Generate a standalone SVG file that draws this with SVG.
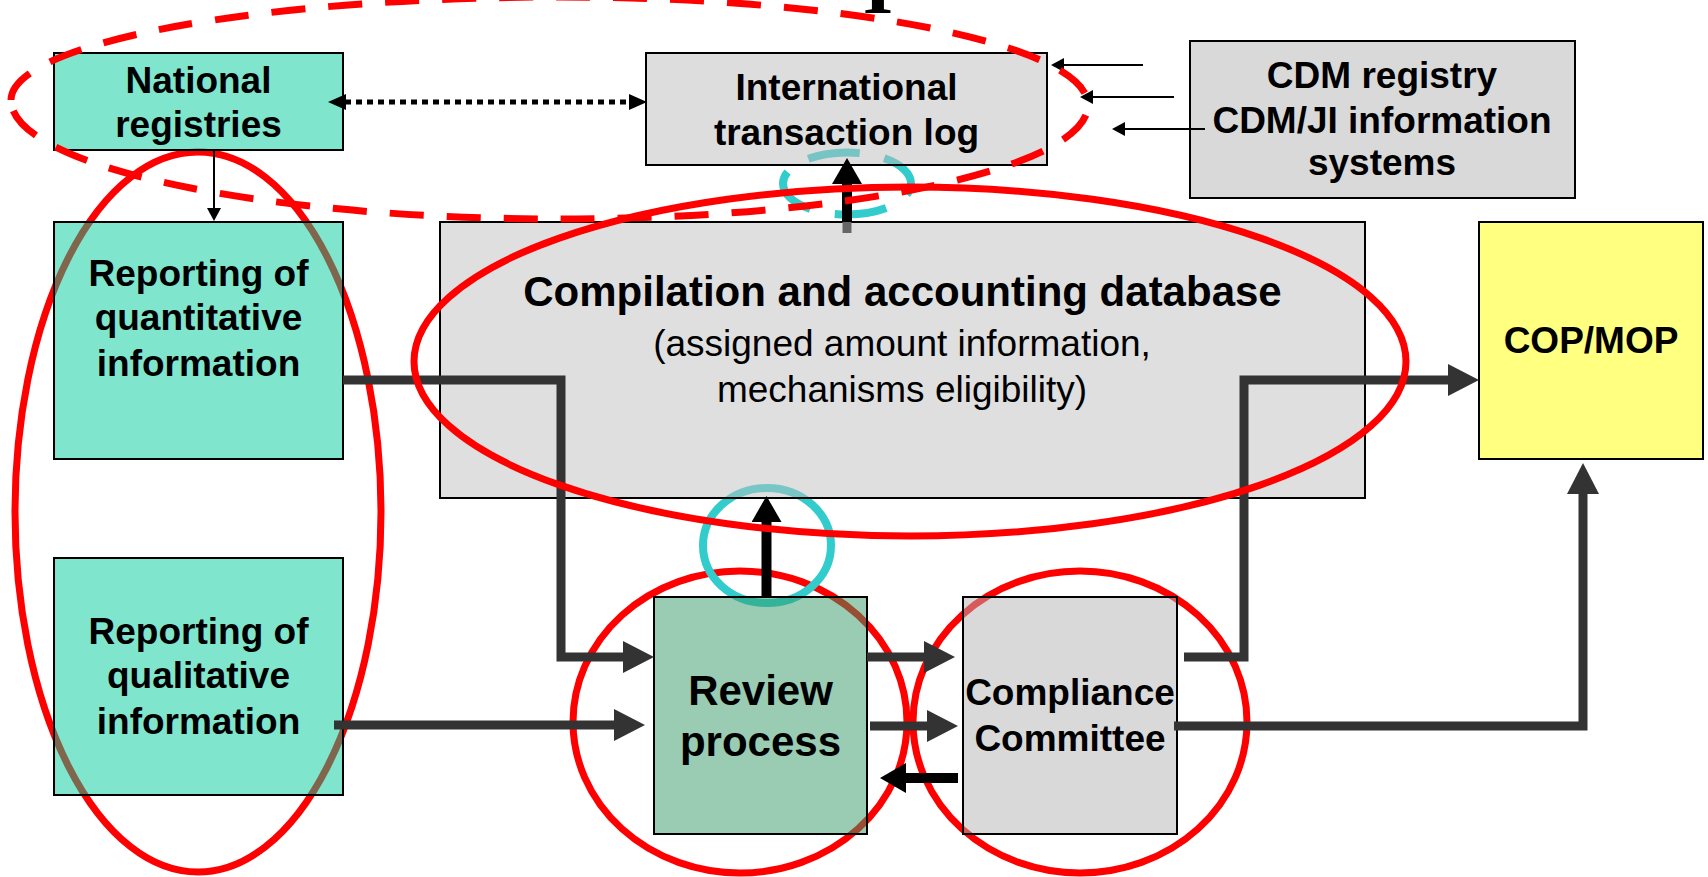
<svg xmlns="http://www.w3.org/2000/svg" width="1708" height="877" viewBox="0 0 1708 877">
<defs>
<style>
.box{stroke:#000;stroke-width:2}
.tq{fill:#00CC99;fill-opacity:0.5}
.rv{fill:#339966;fill-opacity:0.5}
.gc{fill:#C0C0C0;fill-opacity:0.5}
.gi{fill:#BBBBBB;fill-opacity:0.5}
.gk{fill:#B3B3B3;fill-opacity:0.5}
.gd{fill:#D9D9D9}
.yl{fill:#FFFF80}
text{font-family:"Liberation Sans",Arial,sans-serif;fill:#000;text-anchor:middle}
.b{font-weight:bold;font-size:37px}
.bb{font-weight:bold;font-size:42px}
.r{font-size:37px}
.thick{stroke:#333;stroke-width:9;fill:none}
.blk{stroke:#000;stroke-width:10;fill:none}
.thin{stroke:#000;stroke-width:2;fill:none}
.red{fill:none;stroke:#FF0000;stroke-width:7}
.tl{fill:none;stroke:#33CCCC;stroke-width:8}
</style>
<marker id="ah" markerUnits="userSpaceOnUse" markerWidth="32" markerHeight="32" refX="1" refY="16" orient="auto"><path d="M0,0 L31,16 L0,32 Z" fill="#333"/></marker>
<marker id="ahk" markerUnits="userSpaceOnUse" markerWidth="27" markerHeight="30" refX="1" refY="15" orient="auto"><path d="M0,0 L26,15 L0,30 Z" fill="#000"/></marker>
<marker id="ahs" markerUnits="userSpaceOnUse" markerWidth="14" markerHeight="14" refX="1" refY="7" orient="auto"><path d="M0,0 L13,7 L0,14 Z" fill="#000"/></marker>
<marker id="ahd" markerUnits="userSpaceOnUse" markerWidth="19" markerHeight="16" refX="1" refY="8" orient="auto-start-reverse"><path d="M0,0 L18,8 L0,16 Z" fill="#000"/></marker>
</defs>
<rect width="1708" height="877" fill="#fff"/>

<g id="highlights-under">
<ellipse class="red" cx="198" cy="512" rx="183" ry="360"/>
<ellipse class="red" cx="740" cy="722" rx="167" ry="151"/>
<ellipse class="red" cx="1080" cy="722" rx="167" ry="151"/>
<ellipse class="tl" cx="767" cy="545.5" rx="64" ry="57.5"/>
<ellipse class="tl" cx="847" cy="183.5" rx="64" ry="31" stroke-width="7" stroke-dasharray="52 25" stroke-dashoffset="40"/>
</g>

<g id="national-registries">
<rect class="box tq" x="54" y="53" width="289" height="97"/>
<text class="b" x="198.5" y="93">National</text>
<text class="b" x="198.5" y="137">registries</text>
</g>
<g id="itl">
<rect class="box gi" x="646" y="53" width="401" height="112"/>
<text class="b" x="846.5" y="100">International</text>
<text class="b" x="846.5" y="145">transaction log</text>
</g>
<g id="cdm">
<rect class="box gd" x="1190" y="41" width="385" height="157"/>
<text class="b" x="1382" y="88">CDM registry</text>
<text class="b" x="1382" y="133">CDM/JI information</text>
<text class="b" x="1382" y="175">systems</text>
</g>
<g id="reporting-quantitative">
<rect class="box tq" x="54" y="222" width="289" height="237"/>
<text class="b" x="198.5" y="286">Reporting of</text>
<text class="b" x="198.5" y="330">quantitative</text>
<text class="b" x="198.5" y="376">information</text>
</g>
<g id="compilation">
<rect class="box gc" x="440" y="222" width="925" height="276"/>
<text class="bb" x="902.5" y="306">Compilation and accounting database</text>
<text class="r" x="902" y="356">(assigned amount information,</text>
<text class="r" x="902" y="402">mechanisms eligibility)</text>
</g>
<g id="cop-mop">
<rect class="box yl" x="1479" y="222" width="224" height="237"/>
<text class="b" x="1591" y="353">COP/MOP</text>
</g>
<g id="reporting-qualitative">
<rect class="box tq" x="54" y="558" width="289" height="237"/>
<text class="b" x="198.5" y="644">Reporting of</text>
<text class="b" x="198.5" y="688">qualitative</text>
<text class="b" x="198.5" y="734">information</text>
</g>
<g id="review">
<rect class="box rv" x="654" y="597" width="213" height="237"/>
<text class="bb" x="760.5" y="705">Review</text>
<text class="bb" x="760.5" y="756">process</text>
</g>
<g id="compliance">
<rect class="box gk" x="963" y="597" width="214" height="237"/>
<text class="b" x="1070" y="705">Compliance</text>
<text class="b" x="1070" y="751">Committee</text>
</g>

<g id="connectors">
<line x1="345" y1="102" x2="630" y2="102" stroke="#000" stroke-width="5" stroke-dasharray="6 5" marker-start="url(#ahd)" marker-end="url(#ahd)"/>
<line class="thin" x1="214" y1="150" x2="214" y2="209" marker-end="url(#ahs)"/>
<line class="thin" x1="1143" y1="65" x2="1063" y2="65" marker-end="url(#ahs)"/>
<line class="thin" x1="1174" y1="97" x2="1092" y2="97" marker-end="url(#ahs)"/>
<line class="thin" x1="1205" y1="129" x2="1124" y2="129" marker-end="url(#ahs)"/>
<line x1="847" y1="233" x2="847" y2="222" stroke="#666" stroke-width="9"/>
<line class="blk" x1="847" y1="222" x2="847" y2="183" stroke-width="9" marker-end="url(#ahk)"/>
<polyline class="thick" points="343,380 561,380 561,657 624,657" marker-end="url(#ah)"/>
<line class="thick" x1="334" y1="725" x2="615" y2="725" marker-end="url(#ah)"/>
<line class="thick" x1="867" y1="657" x2="925" y2="657" marker-end="url(#ah)"/>
<line class="thick" x1="870" y1="726" x2="928" y2="726" marker-end="url(#ah)"/>
<line class="blk" x1="958" y1="778" x2="905" y2="778" marker-end="url(#ahk)"/>
<polyline class="thick" points="1184,657 1244,657 1244,380 1449,380" marker-end="url(#ah)"/>
<polyline class="thick" points="1174,726 1583,726 1583,493" marker-end="url(#ah)"/>
<line class="blk" x1="766.5" y1="597" x2="766.5" y2="521" marker-end="url(#ahk)"/>
</g>

<g id="highlights-over">
<ellipse class="red" cx="910" cy="361.5" rx="496" ry="174.5"/>
<path class="red" stroke-width="7" stroke-dasharray="34 23" d="M11,100 A549,103 0 0 1 560,-3 A528,108 0 0 1 1088,105 A528,114 0 0 1 560,219 A549,119 0 0 1 11,100 Z"/>
</g>
<text x="878" y="13" style="font-family:'Liberation Serif',serif;font-weight:bold;font-size:78px">I</text>
</svg>
